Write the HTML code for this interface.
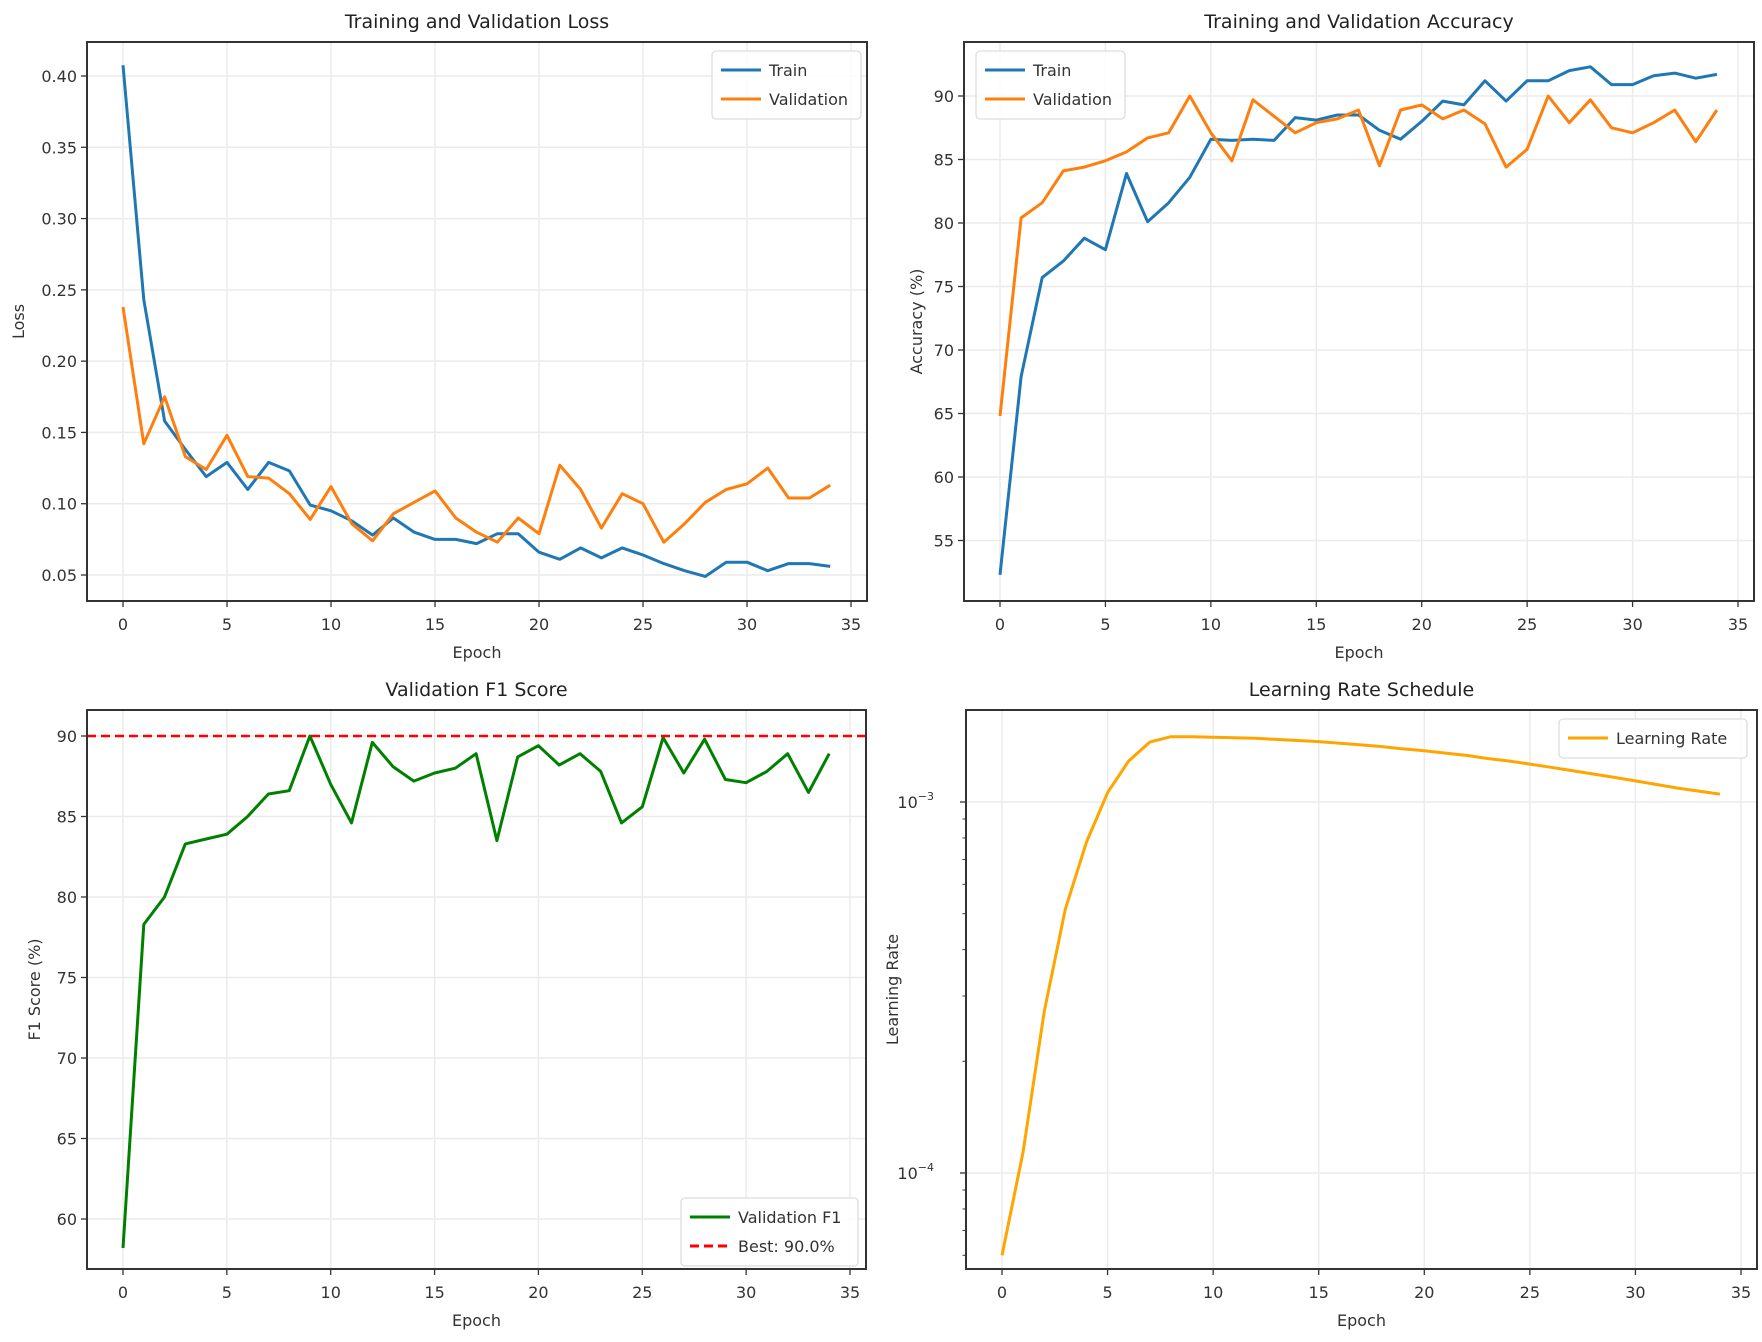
<!DOCTYPE html>
<html><head><meta charset="utf-8"><style>
html,body{margin:0;padding:0;background:#fff;}
svg{display:block;font-family:"DejaVu Sans","Liberation Sans",sans-serif;}
</style></head><body>
<svg id="fig" width="1762" height="1342" viewBox="0 0 1762 1342" xmlns="http://www.w3.org/2000/svg"></svg>
<script>
const epochs = Array.from({length:35},(_, i)=>i);
const lossTrain = [0.4076,0.243,0.158,0.138,0.119,0.129,0.110,0.129,0.123,0.099,0.095,0.088,0.078,0.090,0.080,0.075,0.075,0.072,0.079,0.079,0.066,0.061,0.069,0.062,0.069,0.064,0.058,0.053,0.049,0.059,0.059,0.053,0.058,0.058,0.056];
const lossVal = [0.238,0.142,0.175,0.133,0.124,0.148,0.119,0.118,0.107,0.089,0.112,0.086,0.074,0.093,0.101,0.109,0.090,0.080,0.073,0.090,0.079,0.127,0.110,0.083,0.107,0.100,0.073,0.086,0.101,0.110,0.114,0.125,0.104,0.104,0.113];
const accTrain = [52.3,67.9,75.7,77.0,78.8,77.9,83.9,80.1,81.6,83.6,86.6,86.5,86.6,86.5,88.3,88.1,88.5,88.5,87.3,86.6,88.0,89.6,89.3,91.2,89.6,91.2,91.2,92.0,92.3,90.9,90.9,91.6,91.8,91.4,91.7];
const accVal = [64.8,80.4,81.6,84.1,84.4,84.9,85.6,86.7,87.1,90.0,87.1,84.9,89.7,88.4,87.1,87.9,88.2,88.9,84.5,88.9,89.3,88.2,88.9,87.8,84.4,85.8,90.0,87.9,89.7,87.5,87.1,87.9,88.9,86.4,88.9];
const f1Val = [58.2,78.3,80.0,83.3,83.6,83.9,85.0,86.4,86.6,90.0,87.0,84.6,89.6,88.1,87.2,87.7,88.0,88.9,83.5,88.7,89.4,88.2,88.9,87.8,84.6,85.6,89.9,87.7,89.8,87.3,87.1,87.8,88.9,86.5,88.9];
const bestF1 = 90.0;
const lrVals = [6.0e-5,1.14e-4,2.72e-4,5.14e-4,7.8e-4,1.06e-3,1.29e-3,1.45e-3,1.5e-3,1.5e-3,1.495e-3,1.49e-3,1.485e-3,1.475e-3,1.465e-3,1.455e-3,1.44e-3,1.425e-3,1.41e-3,1.39e-3,1.375e-3,1.355e-3,1.335e-3,1.31e-3,1.29e-3,1.265e-3,1.24e-3,1.215e-3,1.19e-3,1.165e-3,1.14e-3,1.115e-3,1.09e-3,1.07e-3,1.05e-3];
const xTicks = [0,5,10,15,20,25,30,35];
const lossTicks = [0.05,0.10,0.15,0.20,0.25,0.30,0.35,0.40];
const accTicks = [55,60,65,70,75,80,85,90];
const f1Ticks = [60,65,70,75,80,85,90];
const lrMajor = [1e-4,1e-3];

const NS="http://www.w3.org/2000/svg";
const svg=document.getElementById('fig');
function mk(tag,attrs,parent){const e=document.createElementNS(NS,tag);for(const k in attrs)e.setAttribute(k,attrs[k]);(parent||svg).appendChild(e);return e;}
function txt(s,attrs,parent){const e=mk('text',attrs,parent);e.textContent=s;return e;}

function panel(o){
  const g=mk('g',{});
  
  
  const x0=o.left+36, x35=o.right-16;
  const sx=v=>x0+(v-0)*(x35-x0)/35;
  const sy=o.sy;
  // grid
  xTicks.forEach(t=>{const l=mk('line',{x1:sx(t),x2:sx(t),y1:o.top,y2:o.bottom,stroke:'#ebebeb','stroke-width':1.5},g);
    });
  o.yTicks.forEach(t=>{const y=sy(t);const l=mk('line',{x1:o.left,x2:o.right,y1:y,y2:y,stroke:'#ebebeb','stroke-width':1.5},g);
    });
  // ticks & labels
  xTicks.forEach(t=>{mk('line',{x1:sx(t),x2:sx(t),y1:o.bottom,y2:o.bottom+6,stroke:'#333','stroke-width':1.3},g);
    const tl=txt(String(t),{x:sx(t),y:o.bottom+29,'text-anchor':'middle','font-size':16,fill:'#333'},g);
    });
  o.yTicks.forEach(t=>{const y=sy(t);mk('line',{x1:o.left-6,x2:o.left,y1:y,y2:y,stroke:'#333','stroke-width':1.3},g);
    if(o.yLabelFn){o.yLabelFn(t,y,g);}else{
    const tl=txt(o.fmt(t),{x:o.left-10,y:y+6,'text-anchor':'end','font-size':16,fill:'#333'},g);
    }});
  if(o.minor){o.minor.forEach(v=>{const y=sy(v);if(y>o.top&&y<o.bottom)mk('line',{x1:o.left-3.5,x2:o.left,y1:y,y2:y,stroke:'#333','stroke-width':1},g);});}
  // series
  o.series.forEach(s=>{
    const pts=s.data.map((v,i)=>sx(epochs[i]).toFixed(1)+','+sy(v).toFixed(1)).join(' ');
    const pl=mk('polyline',{points:pts,fill:'none',stroke:s.color,'stroke-width':3,'stroke-linejoin':'round'},g);
    
  });
  if(o.hline!==undefined){const y=sy(o.hline);const l=mk('line',{x1:o.left,x2:o.right,y1:y,y2:y,stroke:'#ff0000','stroke-width':2.5,'stroke-dasharray':'9,5'},g);
    }
  // frame
  const fr=mk('rect',{x:o.left,y:o.top,width:o.right-o.left,height:o.bottom-o.top,fill:'none',stroke:'#333','stroke-width':2},g);
  
  const ti=txt(o.title,{x:(o.left+o.right)/2,y:o.top-14,'text-anchor':'middle','font-size':19,fill:'#222'},g);
  
  const xl=txt('Epoch',{x:(o.left+o.right)/2,y:o.bottom+57,'text-anchor':'middle','font-size':16,fill:'#333'},g);
  
  const yc=(o.top+o.bottom)/2;
  const yl=txt(o.ylabel,{x:o.ylx,y:yc,'text-anchor':'middle','font-size':16,fill:'#333',transform:`rotate(-90 ${o.ylx} ${yc})`},g);
  
  // legend
  const L=o.legend;
  const lg=mk('g',{},g);
  
  mk('rect',{x:L.x,y:L.y,width:L.w,height:L.items.length*29+10,rx:4,fill:'#fff','fill-opacity':0.85,stroke:'#ddd','stroke-width':1.3},lg);
  L.items.forEach((it,i)=>{const y=L.y+19+i*29;
    const ln=mk('line',{x1:L.x+9,x2:L.x+49,y1:y,y2:y,stroke:it.color,'stroke-width':3,'stroke-dasharray':it.dash||'none'},lg);
    
    const t=txt(it.label,{x:L.x+57,y:y+6,'font-size':16,fill:'#333'},lg);
    
  });
}

// loss: 0.40 at 76, 0.05 at 575
panel({name:'loss-chart',left:87,right:867,top:42,bottom:601,title:'Training and Validation Loss',ylabel:'Loss',ylx:24,
  sy:v=>575-(v-0.05)*(575-76)/0.35,yTicks:lossTicks,fmt:t=>t.toFixed(2),
  series:[{name:'train-loss-line',data:lossTrain,color:'#1f77b4'},{name:'validation-loss-line',data:lossVal,color:'#ff7f0e'}],
  legend:{x:712,y:51,w:149,items:[{label:'Train',color:'#1f77b4'},{label:'Validation',color:'#ff7f0e'}]}});
// accuracy: 90 at 96, 60 at 477
panel({name:'accuracy-chart',left:964,right:1754,top:42,bottom:601,title:'Training and Validation Accuracy',ylabel:'Accuracy (%)',ylx:922,
  sy:v=>96+(90-v)*(477-96)/30,yTicks:accTicks,fmt:t=>String(t),
  series:[{name:'train-accuracy-line',data:accTrain,color:'#1f77b4'},{name:'validation-accuracy-line',data:accVal,color:'#ff7f0e'}],
  legend:{x:976,y:51,w:149,items:[{label:'Train',color:'#1f77b4'},{label:'Validation',color:'#ff7f0e'}]}});
// f1: 90 at 736, 80 at 897
panel({name:'f1-chart',left:87,right:866,top:710,bottom:1269,title:'Validation F1 Score',ylabel:'F1 Score (%)',ylx:40,
  sy:v=>736+(90-v)*(897-736)/10,yTicks:f1Ticks,fmt:t=>String(t),hline:bestF1,
  series:[{name:'validation-f1-line',data:f1Val,color:'#008000'}],
  legend:{x:681,y:1198,w:177,items:[{label:'Validation F1',color:'#008000'},{label:'Best: 90.0%',color:'#ff0000',dash:'9,5'}]}});
// lr log: 1e-3 at 802, 1e-4 at 1173
const minorVals=[];[1e-5,1e-4,1e-3].forEach(d=>{for(let k=2;k<10;k++)minorVals.push(d*k);});
panel({name:'learning-rate-chart',left:966,right:1757,top:710,bottom:1269,title:'Learning Rate Schedule',ylabel:'Learning Rate',ylx:898,
  sy:v=>802-(Math.log10(v)+3)*(1173-802),yTicks:lrMajor,minor:minorVals,
  yLabelFn:(t,y,g)=>{const e=Math.round(Math.log10(t));const tl=txt('10',{x:934,y:y+6,'text-anchor':'end','font-size':16,fill:'#333'},g);
    const ts=mk('tspan',{dy:-8,'font-size':11},tl);ts.textContent='\u2212'+Math.abs(e);
    },
  series:[{name:'learning-rate-line',data:lrVals,color:'#ffa500'}],
  legend:{x:1559,y:719,w:188,items:[{label:'Learning Rate',color:'#ffa500'}]}});
</script>
</body></html>
